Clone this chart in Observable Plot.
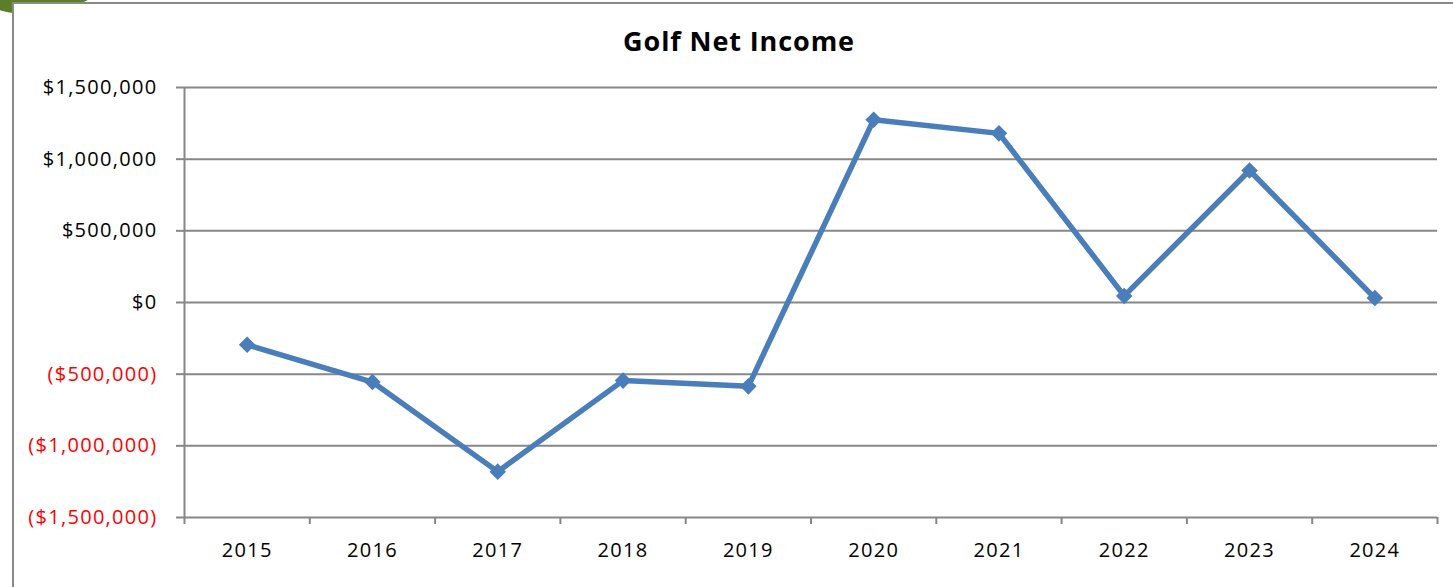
<!DOCTYPE html>
<html>
<head>
<meta charset="utf-8">
<script src="https://cdn.jsdelivr.net/npm/d3@7"></script>
<script src="https://cdn.jsdelivr.net/npm/@observablehq/plot@0.6"></script>
<style>
  html, body { margin: 0; padding: 0; background: #fff; }
  #wrap { position: relative; width: 1453px; height: 587px; overflow: hidden; background: #fff; }
  #blob { position: absolute; left: -40px; top: -30px; width: 150px; height: 44px;
          background: #5b7f28; border-radius: 0 0 55% 45% / 0 0 100% 100%; }
  #frame { position: absolute; left: 12px; top: 2px; right: -5px; bottom: -5px; background: #fff;
           border-left: 2px solid #8a8a8a; border-top: 2px solid #8a8a8a; }
  #title { position: absolute; left: 0; top: 0; width: 1453px; height: 60px;
           font-family: "Open Sans", sans-serif; font-weight: bold; font-size: 27px;
           letter-spacing: 0.9px; color: #000; }
  #title span { position: absolute; left: 739px; top: 22px; transform: translateX(-50%); white-space: nowrap; }
  #chart { position: absolute; left: 0; top: 60px; }
  #chart svg text { font-family: "Open Sans", sans-serif; }
</style>
</head>
<body>
<div id="wrap">
  <div id="blob"></div>
  <div id="frame"></div>
  <div id="title"><span>Golf Net Income</span></div>
  <div id="chart"></div>
</div>
<script>
const years = [2015, 2016, 2017, 2018, 2019, 2020, 2021, 2022, 2023, 2024];
const netIncome = [-295000, -555000, -1180000, -545000, -585000, 1275000, 1180000, 46000, 921000, 31000];
const yTicksPos = [0, 500000, 1000000, 1500000];
const yTicksNeg = [-1500000, -1000000, -500000];
const xBoundaries = [2014.5, 2015.5, 2016.5, 2017.5, 2018.5, 2019.5, 2020.5, 2021.5, 2022.5, 2023.5, 2024.5];

const data = years.map((year, i) => ({year, value: netIncome[i]}));
const fmt = v => {
  const s = "$" + d3.format(",")(Math.abs(v));
  return v < 0 ? "(" + s + ")" : s;
};
const grid = "#878787";

const chart = Plot.plot({
  width: 1453,
  height: 527,
  marginTop: 27,
  marginBottom: 70,
  marginLeft: 184,
  marginRight: 16,
  style: {fontFamily: "Open Sans, sans-serif", fontSize: "20px", background: "transparent", letterSpacing: "1.3px"},
  x: {domain: [2014.5, 2024.5], axis: null, label: null},
  y: {domain: [-1500000, 1500000], axis: null, label: null},
  marks: [
    Plot.gridY([...yTicksNeg, ...yTicksPos], {stroke: grid, strokeOpacity: 1, strokeWidth: 2}),
    Plot.ruleX([2014.5], {stroke: grid, strokeWidth: 2}),
    Plot.axisY(yTicksPos, {tickFormat: fmt, tickSize: 8, tickPadding: 19, stroke: grid, strokeWidth: 2, fill: "#000", label: null}),
    Plot.axisY(yTicksNeg, {tickFormat: fmt, tickSize: 8, tickPadding: 19, stroke: grid, strokeWidth: 2, fill: "#ff0000", label: null}),
    Plot.axisX(xBoundaries, {tickFormat: () => "", tickSize: 7, stroke: grid, strokeWidth: 2, label: null}),
    Plot.axisX(years, {tickFormat: d => String(d), tickSize: 0, tickPadding: 25, fill: "#000", label: null}),
    Plot.line(data, {x: "year", y: "value", stroke: "#4a7ebb", strokeWidth: 5.5, strokeLinejoin: "round"}),
    Plot.dot(data, {x: "year", y: "value", symbol: "diamond2", r: 6.5, fill: "#4a7ebb", stroke: "#4a7ebb", strokeWidth: 1.5})
  ]
});
document.getElementById("chart").appendChild(chart);
</script>
</body>
</html>
